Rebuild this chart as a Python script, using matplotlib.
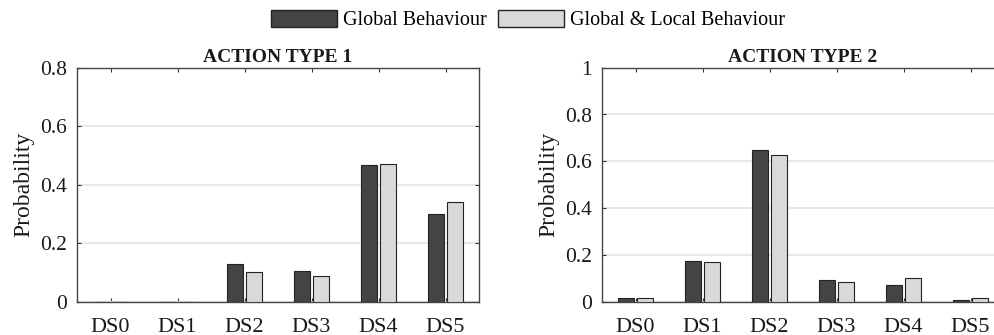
import numpy as np
import matplotlib
matplotlib.use("Agg")
import matplotlib.pyplot as plt
from matplotlib.patches import Patch

# Donnees
states = ["DS0", "DS1", "DS2", "DS3", "DS4", "DS5"]
glob_t1 = [0.0, 0.0, 0.128, 0.105, 0.466, 0.299]
local_t1 = [0.0, 0.0, 0.101, 0.088, 0.471, 0.340]
glob_t2 = [0.017, 0.174, 0.650, 0.094, 0.070, 0.008]
local_t2 = [0.017, 0.169, 0.625, 0.085, 0.102, 0.017]

dark = "#444444"
light = "#d9d9d9"

plt.rcParams["font.family"] = ["Liberation Serif", "DejaVu Serif"]

fig = plt.figure(figsize=(9.94, 3.35), dpi=100)
W, H = 994., 335.

def make_ax(left, yg, yl, ymax, yticks):
    ax = fig.add_axes([left / W, 1 - 301.7 / H, 402 / W, (301.7 - 67.7) / H])
    x = np.arange(1, len(states) + 1)
    ax.bar(x - 0.145, yg, 0.24, color=dark, edgecolor="#222222", lw=0.8, zorder=3)
    ax.bar(x + 0.145, yl, 0.24, color=light, edgecolor="#222222", lw=0.8, zorder=3)
    ax.set_xlim(0.5, 6.5)
    ax.set_ylim(0, ymax)
    ax.set_xticks(x)
    ax.set_xticklabels(states, fontsize=16)
    ax.set_yticks(yticks)
    ax.set_yticklabels(["%g" % v for v in yticks], fontsize=15.5)
    ax.yaxis.grid(True, color="#e8e8e8", lw=1.5, zorder=0)
    ax.set_axisbelow(True)
    ax.tick_params(direction="in", length=3, width=0.8, top=True, right=True,
                   colors="#333333", labelcolor="#1a1a1a")
    ax.tick_params(axis="x", pad=11.5)
    ax.tick_params(axis="y", pad=7)
    for s in ax.spines.values():
        s.set_color("#444444")
        s.set_linewidth(1.0)
    ax.set_ylabel("Probability", fontsize=17, color="#1a1a1a", labelpad=4)
    return ax

ax1 = make_ax(77, glob_t1, local_t1, 0.8, [0, 0.2, 0.4, 0.6, 0.8])
ax1.set_title("ACTION TYPE 1", fontsize=14, fontweight="bold", pad=4, color="#1a1a1a")
ax2 = make_ax(602, glob_t2, local_t2, 1.0, [0, 0.2, 0.4, 0.6, 0.8, 1.0])
ax2.set_title("ACTION TYPE 2", fontsize=14, fontweight="bold", pad=4, color="#1a1a1a")

handles = [Patch(facecolor=dark, edgecolor="#222222", lw=1.0),
           Patch(facecolor=light, edgecolor="#222222", lw=1.0)]
fig.legend(handles, ["Global Behaviour", "Global & Local Behaviour"],
           loc="center", bbox_to_anchor=(528 / W, 1 - 20 / H), ncol=2, frameon=False,
           fontsize=14.5, handlelength=3.3, handleheight=0.95, handletextpad=0.3,
           columnspacing=0.55)

fig.savefig("out.png", dpi=100)
